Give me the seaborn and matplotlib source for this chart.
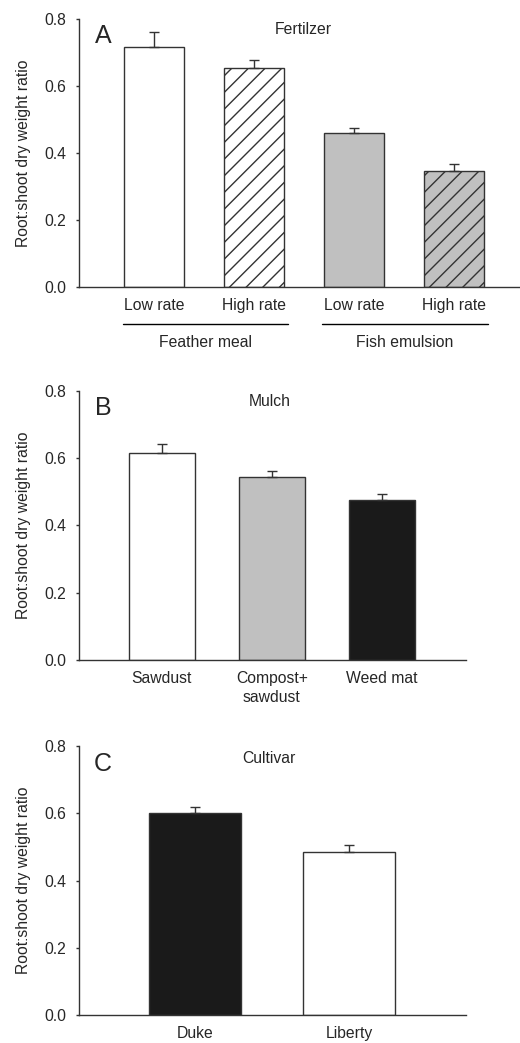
import matplotlib
matplotlib.use("Agg")
import matplotlib.pyplot as plt
import seaborn as sns
import pandas as pd
import numpy as np

# ---- data ----
fert_ids = ["FM low", "FM high", "FE low", "FE high"]
fert_ticks = ["Low rate", "High rate", "Low rate", "High rate"]
fert_groups = ["Feather meal", "Fish emulsion"]
fert_vals = [0.717, 0.653, 0.459, 0.346]
fert_err = [0.043, 0.026, 0.015, 0.022]
fert_colors = ["#ffffff", "#ffffff", "#c0c0c0", "#c0c0c0"]
fert_hatch = ["", "//", "", "//"]

mulch_cats = ["Sawdust", "Compost+\nsawdust", "Weed mat"]
mulch_vals = [0.614, 0.544, 0.476]
mulch_err = [0.027, 0.017, 0.018]
mulch_colors = ["#ffffff", "#c0c0c0", "#1a1a1a"]

cult_cats = ["Duke", "Liberty"]
cult_vals = [0.601, 0.486]
cult_err = [0.017, 0.020]
cult_colors = ["#1a1a1a", "#ffffff"]

yticks = [0.0, 0.2, 0.4, 0.6, 0.8]
ylabel = "Root:shoot dry weight ratio"

sns.set_style("ticks")
plt.rcParams['font.family'] = ['Liberation Sans', 'DejaVu Sans']
plt.rcParams['hatch.linewidth'] = 1.0
plt.rcParams['hatch.color'] = '#222222'

FS = 11.3
EDGE = "#333333"

fig = plt.figure(figsize=(5.2, 10.43), dpi=100)
axA = fig.add_axes([0.152, 0.7248, 0.848, 0.257])
axB = fig.add_axes([0.152, 0.3672, 0.7436, 0.2582])
axC = fig.add_axes([0.152, 0.02685, 0.7436, 0.2579])


def draw(ax, cats, vals, errs, colors, hatches, xlim, letter, title, lpos, tpos):
    df = pd.DataFrame({"cat": cats, "val": vals})
    sns.barplot(data=df, x="cat", y="val", hue="cat", palette=colors,
                order=cats, hue_order=cats, width=0.6, edgecolor=EDGE,
                linewidth=1.0, legend=False, ax=ax, errorbar=None)
    for p, h in zip(ax.patches, hatches):
        if h:
            p.set_hatch(h)
    x = np.arange(len(cats))
    ax.errorbar(x, vals, yerr=[np.zeros(len(vals)), errs], fmt='none',
                ecolor=EDGE, elinewidth=1.0, capsize=3.5, capthick=1.0)
    ax.set_xlim(*xlim)
    ax.set_ylim(0, 0.8)
    ax.set_yticks(yticks)
    ax.set_yticklabels([f"{v:.1f}" for v in yticks])
    ax.set_ylabel(ylabel, fontsize=FS, labelpad=10)
    ax.set_xlabel("")
    ax.tick_params(axis='y', length=2.5, width=1.0, pad=6.5, labelsize=FS,
                   color=EDGE)
    ax.tick_params(axis='x', length=0, pad=8, labelsize=FS)
    for s in ["top", "right"]:
        ax.spines[s].set_visible(False)
    for s in ["left", "bottom"]:
        ax.spines[s].set_linewidth(1.0)
        ax.spines[s].set_color(EDGE)
    ax.text(lpos[0], lpos[1], letter, transform=ax.transAxes, fontsize=18,
            ha='center', va='center')
    ax.text(tpos[0], tpos[1], title, transform=ax.transAxes, fontsize=FS,
            ha='center', va='center')


draw(axA, fert_ids, fert_vals, fert_err, fert_colors, fert_hatch,
     (-0.75, 3.66), "A", "Fertilzer", (0.054, 0.937), (0.508, 0.959))
axA.set_xticks(range(len(fert_ticks)))
axA.set_xticklabels(fert_ticks)
trans = axA.get_xaxis_transform()
for (x0, x1), g in zip([(-0.31, 1.34), (1.68, 3.34)], fert_groups):
    axA.plot([x0, x1], [-0.137, -0.137], color="black", lw=1.0,
             transform=trans, clip_on=False)
    axA.text((x0 + x1) / 2, -0.208, g, transform=trans, ha='center',
             va='center', fontsize=FS)

draw(axB, mulch_cats, mulch_vals, mulch_err, mulch_colors, [""] * 3,
     (-0.753, 2.763), "B", "Mulch", (0.062, 0.936), (0.494, 0.959))
for t in axB.get_xticklabels():
    t.set_linespacing(1.3)

draw(axC, cult_cats, cult_vals, cult_err, cult_colors, [""] * 2,
     (-0.75, 1.755), "C", "Cultivar", (0.062, 0.933), (0.491, 0.955))

fig.savefig("out.png", dpi=100)
